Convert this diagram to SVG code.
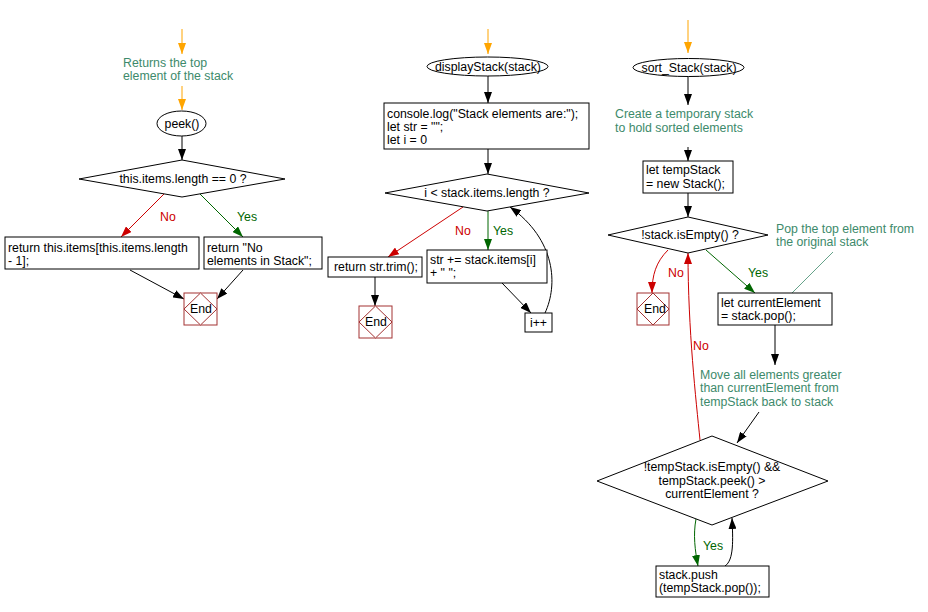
<svg xmlns="http://www.w3.org/2000/svg" width="928" height="612" viewBox="0 0 928 612">
<style>
text{font-family:"Liberation Sans",Arial,sans-serif;font-size:12.3px;fill:#000}
.c{fill:#3d8a6b}
.r{fill:#cc0000}
.g{fill:#006600}
.m{text-anchor:middle}
.box{fill:#fff;stroke:#000;stroke-width:1}
.end{fill:#fff;stroke:#a33333;stroke-width:1}
.ln{fill:none;stroke:#000;stroke-width:1}
.lr{fill:none;stroke:#cc0000;stroke-width:1}
.lg{fill:none;stroke:#006600;stroke-width:1}
.lo{fill:none;stroke:#ffa500;stroke-width:1}
.lc{fill:none;stroke:#3d8a6b;stroke-width:0.8}
</style>
<defs>
<marker id="ak" viewBox="0 0 11 8" refX="11" refY="4" markerWidth="11" markerHeight="8" markerUnits="userSpaceOnUse" orient="auto"><path d="M0,0L11,4L0,8z" fill="#000"/></marker>
<marker id="ar" viewBox="0 0 11 8" refX="11" refY="4" markerWidth="11" markerHeight="8" markerUnits="userSpaceOnUse" orient="auto"><path d="M0,0L11,4L0,8z" fill="#cc0000"/></marker>
<marker id="ag" viewBox="0 0 11 8" refX="11" refY="4" markerWidth="11" markerHeight="8" markerUnits="userSpaceOnUse" orient="auto"><path d="M0,0L11,4L0,8z" fill="#006600"/></marker>
<marker id="ao" viewBox="0 0 11 8" refX="11" refY="4" markerWidth="11" markerHeight="8" markerUnits="userSpaceOnUse" orient="auto"><path d="M0,0L11,4L0,8z" fill="#ffa500"/></marker>
</defs>
<rect width="928" height="612" fill="#fff"/>

<g id="connectors">
<path class="lo" d="M182,29V54" marker-end="url(#ao)"/>
<path class="lo" d="M182,86V110" marker-end="url(#ao)"/>
<path class="ln" d="M182,136V160" marker-end="url(#ak)"/>
<path class="lr" d="M164,194L121,237" marker-end="url(#ar)"/>
<path class="lg" d="M200,194L243,237" marker-end="url(#ag)"/>
<path class="ln" d="M130,270L184,299" marker-end="url(#ak)"/>
<path class="ln" d="M243,270L217,299" marker-end="url(#ak)"/>
<path class="lo" d="M488,29V54" marker-end="url(#ao)"/>
<path class="ln" d="M488,76V103" marker-end="url(#ak)"/>
<path class="ln" d="M488,149V174" marker-end="url(#ak)"/>
<path class="lr" d="M463,207L388,257" marker-end="url(#ar)"/>
<path class="lg" d="M488,211V250" marker-end="url(#ag)"/>
<path class="ln" d="M375,277V306" marker-end="url(#ak)"/>
<path class="ln" d="M502,283L531,313" marker-end="url(#ak)"/>
<path class="ln" d="M545,313C558,285 556,240 510,207" marker-end="url(#ak)"/>
<path class="lo" d="M688,20V53" marker-end="url(#ao)"/>
<path class="ln" d="M688,76V105" marker-end="url(#ak)"/>
<path class="ln" d="M688,147V161" marker-end="url(#ak)"/>
<path class="ln" d="M688,193V217" marker-end="url(#ak)"/>
<path class="lr" d="M668,250C656,262 652,275 652,293" marker-end="url(#ar)"/>
<path class="lg" d="M706,250L755,293" marker-end="url(#ag)"/>
<path class="lc" d="M833,252L792,293"/>
<path class="ln" d="M775,325V365" marker-end="url(#ak)"/>
<path class="ln" d="M759,412L737,443" marker-end="url(#ak)"/>
<path class="lr" d="M700,440C696,400 688,330 688,253" marker-end="url(#ar)"/>
<path class="lg" d="M696,519C693,535 695,550 698,566" marker-end="url(#ag)"/>
<path class="ln" d="M725,566C734,560 733,540 732,518" marker-end="url(#ak)"/>
</g>

<g id="comment1"><text class="c" x="123" y="67">Returns the top</text><text class="c" x="123" y="80">element of the stack</text></g>
<g id="peek"><ellipse cx="181.5" cy="123.5" rx="24.5" ry="12.5" class="box"/><text class="m" x="182" y="128">peek()</text></g>
<g id="cond1"><polygon class="box" points="182,160 285,179 182,197 79,179"/><text class="m" x="183" y="183">this.items.length == 0 ?</text></g>
<g id="lbl1"><text class="r" x="160" y="221">No</text><text class="g" x="237" y="221">Yes</text></g>
<g id="ret1"><rect class="box" x="5" y="237" width="194" height="32"/><text x="8" y="252">return this.items[this.items.length</text><text x="8" y="265">- 1];</text></g>
<g id="ret2"><rect class="box" x="204" y="237" width="118" height="32"/><text x="207" y="252">return "No</text><text x="207" y="265">elements in Stack";</text></g>
<g id="end1"><rect class="end" x="184" y="293" width="33" height="32"/><polygon class="end" points="200.5,293 217,309 200.5,325 184,309"/><text class="m" x="201" y="313">End</text></g>

<g id="display"><ellipse cx="487.5" cy="66.5" rx="60.5" ry="9.5" class="box"/><text class="m" x="488" y="71">displayStack(stack)</text></g>
<g id="init"><rect class="box" x="384" y="103" width="205" height="46"/><text x="387" y="118">console.log("Stack elements are:");</text><text x="387" y="131">let str = "";</text><text x="387" y="144">let i = 0</text></g>
<g id="cond2"><polygon class="box" points="487,174 589,193 487,211 385,193"/><text class="m" x="487" y="197">i &lt; stack.items.length ?</text></g>
<g id="lbl2"><text class="r" x="455" y="235">No</text><text class="g" x="493" y="235">Yes</text></g>
<g id="trim"><rect class="box" x="328" y="257" width="94" height="20"/><text x="334" y="271">return str.trim();</text></g>
<g id="end2"><rect class="end" x="359" y="306" width="33" height="32"/><polygon class="end" points="375.5,306 392,322 375.5,338 359,322"/><text class="m" x="376" y="326">End</text></g>
<g id="concat"><rect class="box" x="427" y="250" width="120" height="33"/><text x="430" y="264">str += stack.items[i]</text><text x="430" y="277">+ " ";</text></g>
<g id="inc"><rect class="box" x="525" y="313" width="27" height="19"/><text class="m" x="538.5" y="327">i++</text></g>

<g id="sort"><ellipse cx="688.5" cy="67.5" rx="55.5" ry="9" class="box"/><text class="m" x="689" y="72">sort_Stack(stack)</text></g>
<g id="comment2"><text class="c" x="615" y="118">Create a temporary stack</text><text class="c" x="615" y="132">to hold sorted elements</text></g>
<g id="temp"><rect class="box" x="643" y="161" width="90" height="32"/><text x="646" y="174">let tempStack</text><text x="646" y="188">= new Stack();</text></g>
<g id="cond3"><polygon class="box" points="688,217 768,235 688,253 608,235"/><text class="m" x="690" y="239">!stack.isEmpty() ?</text></g>
<g id="comment3"><text class="c" x="776" y="233">Pop the top element from</text><text class="c" x="776" y="246">the original stack</text></g>
<g id="lbl3"><text class="r" x="668" y="277">No</text><text class="g" x="748" y="277">Yes</text></g>
<g id="end3"><rect class="end" x="637" y="293" width="32" height="32"/><polygon class="end" points="653,293 669,309 653,325 637,309"/><text class="m" x="655" y="313">End</text></g>
<g id="cur"><rect class="box" x="718" y="293" width="114" height="32"/><text x="721" y="307">let currentElement</text><text x="721" y="320">= stack.pop();</text></g>
<g id="comment4"><text class="c" x="700" y="379">Move all elements greater</text><text class="c" x="700" y="392">than currentElement from</text><text class="c" x="700" y="406">tempStack back to stack</text></g>
<g id="lblNo4"><text class="r" x="693" y="350">No</text></g>
<g id="cond4"><polygon class="box" points="712,436 828,481 712,525 597,481"/><text class="m" x="712" y="471">!tempStack.isEmpty() &amp;&amp;</text><text class="m" x="712" y="485">tempStack.peek() &gt;</text><text class="m" x="712" y="498">currentElement ?</text></g>
<g id="lbl4"><text class="g" x="703" y="550">Yes</text></g>
<g id="push"><rect class="box" x="656" y="566" width="113" height="31"/><text x="659" y="579">stack.push</text><text x="659" y="592">(tempStack.pop());</text></g>
</svg>
